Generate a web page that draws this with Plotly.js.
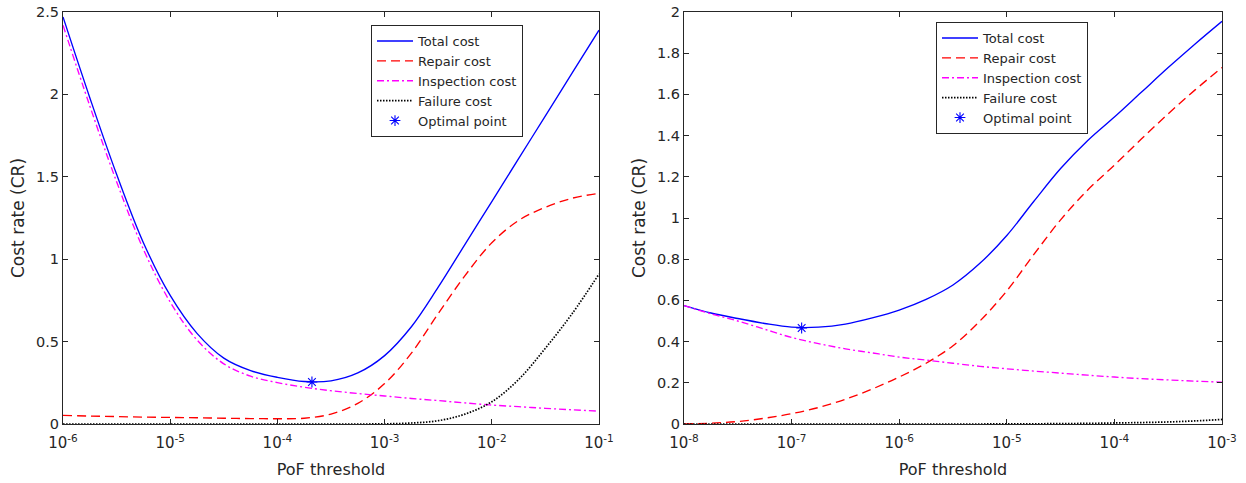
<!DOCTYPE html>
<html>
<head>
<meta charset="utf-8">
<script src="https://cdn.plot.ly/plotly-3.0.1.min.js"></script>
<style>
  html, body { margin: 0; padding: 0; background: #ffffff; }
  #chart { width: 1246px; height: 483px; }
</style>
</head>
<body>
<div id="chart"></div>
<script>
// ---- Left panel: PoF threshold from 1e-6 to 1e-1 (log10 of threshold) ----
const leftLogPoF = [-6, -5.75, -5.5, -5.25, -5, -4.75, -4.5, -4.25, -4, -3.75, -3.5,
                    -3.25, -3, -2.75, -2.5, -2.25, -2, -1.75, -1.5, -1.25, -1];
const leftTotal = [2.47, 1.98, 1.515, 1.10, 0.78, 0.55, 0.40, 0.324, 0.283, 0.258, 0.262,
                   0.31, 0.415, 0.59, 0.83, 1.09, 1.35, 1.61, 1.87, 2.13, 2.39];
const leftRepair = [0.052, 0.048, 0.045, 0.042, 0.040, 0.038, 0.035, 0.033, 0.032, 0.035, 0.06,
                    0.125, 0.245, 0.43, 0.67, 0.90, 1.10, 1.235, 1.315, 1.37, 1.40];
const leftInspection = [2.42, 1.93, 1.47, 1.06, 0.74, 0.51, 0.365, 0.29, 0.251, 0.223, 0.202,
                        0.185, 0.17, 0.155, 0.142, 0.128, 0.115, 0.105, 0.095, 0.086, 0.078];
const leftFailure = [0, 0, 0, 0, 0, 0, 0, 0, 0, 0, 0,
                     0, 0.001, 0.006, 0.02, 0.06, 0.135, 0.27, 0.46, 0.67, 0.91];
const leftOptimalPoF = [2.1e-4];
const leftOptimalCR = [0.255];
const leftTickVals = [1e-6, 1e-5, 1e-4, 1e-3, 1e-2, 1e-1];
const leftTickText = ['10<sup>-6</sup>', '10<sup>-5</sup>', '10<sup>-4</sup>',
                      '10<sup>-3</sup>', '10<sup>-2</sup>', '10<sup>-1</sup>'];

// ---- Right panel: PoF threshold from 1e-8 to 1e-3 (log10 of threshold) ----
const rightLogPoF = [-8, -7.75, -7.5, -7.25, -7, -6.75, -6.5, -6.25, -6, -5.75, -5.5,
                     -5.25, -5, -4.75, -4.5, -4.25, -4, -3.75, -3.5, -3.25, -3];
const rightTotal = [0.575, 0.539, 0.512, 0.488, 0.47, 0.47, 0.485, 0.515, 0.553, 0.605, 0.675,
                    0.78, 0.915, 1.08, 1.24, 1.375, 1.49, 1.61, 1.73, 1.845, 1.955];
const rightRepair = [0, 0.004, 0.012, 0.028, 0.05, 0.08, 0.12, 0.17, 0.228, 0.295, 0.38,
                     0.50, 0.646, 0.822, 0.991, 1.135, 1.257, 1.383, 1.506, 1.622, 1.73];
const rightInspection = [0.575, 0.535, 0.50, 0.46, 0.42, 0.39, 0.365, 0.345, 0.325, 0.31, 0.295,
                         0.28, 0.268, 0.257, 0.247, 0.237, 0.228, 0.22, 0.214, 0.208, 0.203];
const rightFailure = [0, 0, 0, 0, 0, 0, 0, 0, 0, 0, 0,
                      0, 0.001, 0.001, 0.002, 0.003, 0.005, 0.007, 0.01, 0.015, 0.022];
const rightOptimalPoF = [1.24e-7];
const rightOptimalCR = [0.466];
const rightTickVals = [1e-8, 1e-7, 1e-6, 1e-5, 1e-4, 1e-3];
const rightTickText = ['10<sup>-8</sup>', '10<sup>-7</sup>', '10<sup>-6</sup>',
                       '10<sup>-5</sup>', '10<sup>-4</sup>', '10<sup>-3</sup>'];

const seriesNames = ['Total cost', 'Repair cost', 'Inspection cost', 'Failure cost', 'Optimal point'];

// ---- Styling ----
const FONT = 'DejaVu Sans, Liberation Sans, Arial, sans-serif';
const INK = '#262626';
const W = 1246, H = 483;
const styles = [
  { color: '#0000ff', dash: 'solid' },
  { color: '#ff0000', dash: '9px,5px' },
  { color: '#ff00ff', dash: '7px,3px,2px,3px' },
  { color: '#000000', dash: '1.5px,1.5px' }
];

function panelTraces(logPoF, series, optX, optY, xa, ya, legendId) {
  const x = logPoF.map(e => Math.pow(10, e));
  const traces = series.map((ys, i) => ({
    type: 'scatter', mode: 'lines', x: x, y: ys,
    name: seriesNames[i], xaxis: xa, yaxis: ya, legend: legendId,
    line: { color: styles[i].color, dash: styles[i].dash, width: i === 3 ? 1.7 : 1.35,
            shape: 'spline', smoothing: 1 },
    hoverinfo: 'skip'
  }));
  traces.push({
    type: 'scatter', mode: 'markers', x: optX, y: optY,
    name: seriesNames[4], xaxis: xa, yaxis: ya, legend: legendId,
    marker: { symbol: 'asterisk-open', size: 9, color: '#0000ff',
              line: { color: '#0000ff', width: 1.1 } },
    hoverinfo: 'skip'
  });
  return traces;
}

const data = [
  ...panelTraces(leftLogPoF, [leftTotal, leftRepair, leftInspection, leftFailure],
                 leftOptimalPoF, leftOptimalCR, 'x', 'y', 'legend'),
  ...panelTraces(rightLogPoF, [rightTotal, rightRepair, rightInspection, rightFailure],
                 rightOptimalPoF, rightOptimalCR, 'x2', 'y2', 'legend2')
];

const yDomain = [(H - 424) / H, (H - 12) / H];

function xAxis(domain, range, vals, text, anchor) {
  return {
    type: 'log', domain: domain, range: range, anchor: anchor,
    tickvals: vals, ticktext: text,
    ticks: 'inside', ticklen: 5, tickcolor: INK, tickwidth: 1,
    showline: true, linecolor: INK, linewidth: 1, mirror: 'ticks',
    showgrid: false, zeroline: false,
    ticklabelstandoff: 5,
    tickfont: { family: FONT, size: 15, color: INK },
    title: { text: 'PoF threshold', font: { family: FONT, size: 16, color: INK }, standoff: 12 }
  };
}
function yAxis(range, dtick, anchor) {
  return {
    domain: yDomain, range: range, anchor: anchor, dtick: dtick, tick0: 0,
    ticks: 'inside', ticklen: 5, tickcolor: INK, tickwidth: 1,
    showline: true, linecolor: INK, linewidth: 1, mirror: 'ticks',
    showgrid: false, zeroline: false,
    tickfont: { family: FONT, size: 14.5, color: INK },
    title: { text: 'Cost rate (CR)', font: { family: FONT, size: 17, color: INK }, standoff: 7 }
  };
}

const legendBase = {
  xanchor: 'left', yanchor: 'top', bgcolor: '#ffffff',
  bordercolor: INK, borderwidth: 1, tracegroupgap: 0, itemwidth: 36,
  font: { family: FONT, size: 13, color: INK }
};

const layout = {
  width: W, height: H,
  margin: { l: 0, r: 0, t: 0, b: 0 },
  paper_bgcolor: '#ffffff', plot_bgcolor: '#ffffff',
  showlegend: true,
  xaxis: xAxis([63 / W, 599 / W], [-6, -1], leftTickVals, leftTickText, 'y'),
  yaxis: yAxis([0, 2.5], 0.5, 'x'),
  xaxis2: xAxis([684 / W, 1222 / W], [-8, -3], rightTickVals, rightTickText, 'y2'),
  yaxis2: yAxis([0, 2], 0.2, 'x2'),
  legend: Object.assign({ x: 371 / W, y: (H - 25) / H }, legendBase),
  legend2: Object.assign({ x: 936 / W, y: (H - 22) / H }, legendBase)
};

Plotly.newPlot('chart', data, layout, { staticPlot: true, displayModeBar: false });
</script>
</body>
</html>
